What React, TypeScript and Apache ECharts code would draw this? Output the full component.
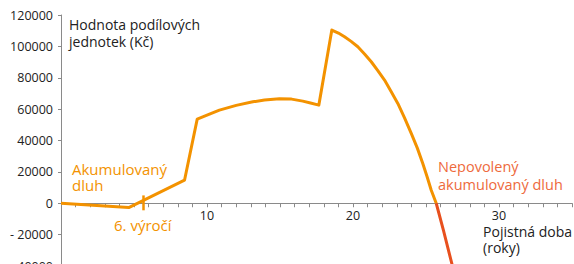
import React, { useEffect, useRef } from "react";
import * as echarts from "echarts";

// Pojistná doba (roky) → Hodnota podílových jednotek (Kč)
const allowedDebtYears = [0, 4.64, 8.46, 9.33, 10.17, 10.85, 12, 13.14, 13.94, 14.96, 15.79, 16.56, 17.09, 17.66, 18.55, 19.0, 19.42, 19.87, 20.33, 20.79, 21.25, 21.7, 22.16, 22.6, 23.07, 23.53, 23.99, 24.4, 24.78, 25.07, 25.36, 25.7];
const allowedDebtValues = [0, -2750, 14680, 53600, 56800, 59360, 62400, 64660, 65750, 66570, 66380, 65110, 63900, 62550, 110430, 108500, 106150, 103200, 99770, 95200, 90190, 84600, 78510, 71400, 63640, 54400, 44490, 35300, 25340, 17000, 8300, 0];
const forbiddenDebtYears = [25.7, 26.2, 26.77, 26.85];
const forbiddenDebtValues = [0, -17500, -38500, -41500];
const anniversaryYear = 5.6;
const xTickLabels = [10, 20, 30];
const yMin = -40000;
const yMax = 120000;

const ORANGE = "#F39200";
const RED = "#E8501E";
const RED_TEXT = "#EE6A3C";
const TEXT = "#222222";
const AXIS = "#8a8a8a";
const FONT = "'Open Sans', 'Noto Sans', sans-serif";

const H = 270;
const GRID_TOP = 15;
const GRID_BOTTOM = 4;

export default function App() {
  const ref = useRef<HTMLDivElement>(null);
  useEffect(() => {
    document.body.style.margin = "0";
    document.body.style.overflow = "hidden";
    const chart = echarts.init(ref.current!, null, { renderer: "svg" });
    const orangeData = allowedDebtYears.map((x, i) => [x, allowedDebtValues[i]]);
    const redData = forbiddenDebtYears.map((x, i) => [x, forbiddenDebtValues[i]]);
    const gridH = H - GRID_TOP - GRID_BOTTOM;
    const zeroFromBottom = (gridH * (0 - yMin)) / (yMax - yMin);
    chart.setOption({
      animation: false,
      textStyle: { fontFamily: FONT },
      grid: { left: 61, right: 2, top: GRID_TOP, bottom: GRID_BOTTOM, outerBoundsMode: "none", containLabel: false },
      xAxis: {
        type: "value",
        min: 0,
        max: 35,
        interval: 1,
        position: "bottom",
        offset: -zeroFromBottom,
        axisLine: { onZero: false, lineStyle: { color: AXIS, width: 1 } },
        axisTick: { show: true, length: 4, lineStyle: { color: AXIS } },
        splitLine: { show: false },
        axisLabel: {
          margin: 6,
          color: TEXT,
          fontSize: 12.5,
          fontFamily: FONT,
          formatter: (v: number) => (xTickLabels.includes(v) ? String(v) : ""),
        },
      },
      yAxis: {
        type: "value",
        min: yMin,
        max: yMax,
        interval: 20000,
        axisLine: { show: true, onZero: false, lineStyle: { color: AXIS, width: 1 } },
        axisTick: { show: true, length: 3, lineStyle: { color: AXIS } },
        splitLine: { show: false },
        axisLabel: {
          margin: 8,
          color: TEXT,
          fontSize: 12.5,
          fontFamily: FONT,
          formatter: (v: number) => (v < 0 ? "- " + String(-v) : String(v)),
        },
      },
      series: [
        {
          type: "line",
          data: orangeData,
          showSymbol: false,
          symbol: "none",
          lineStyle: { color: ORANGE, width: 3, join: "round" },
          itemStyle: { color: ORANGE },
          z: 3,
          markLine: {
            silent: true,
            symbol: ["none", "none"],
            label: { show: false },
            lineStyle: { color: ORANGE, width: 2.5, type: "solid" },
            data: [[{ coord: [anniversaryYear, 5000] }, { coord: [anniversaryYear, -4500] }]],
          },
        },
        {
          type: "line",
          data: redData,
          showSymbol: false,
          symbol: "none",
          lineStyle: { color: RED, width: 3, join: "round" },
          itemStyle: { color: RED },
          z: 3,
        },
      ],
      graphic: [
        {
          type: "text",
          left: 69,
          top: 16,
          style: {
            text: "Hodnota podílových\njednotek (Kč)",
            fill: TEXT,
            font: `14px ${FONT}`,
            lineHeight: 17,
          },
        },
        {
          type: "text",
          left: 72,
          top: 161,
          style: {
            text: "Akumulovaný\ndluh",
            fill: ORANGE,
            font: `15px ${FONT}`,
            lineHeight: 16,
          },
        },
        {
          type: "text",
          left: 114,
          top: 217,
          style: {
            text: "6. výročí",
            fill: ORANGE,
            font: `15px ${FONT}`,
          },
        },
        {
          type: "text",
          left: 438,
          top: 158,
          style: {
            text: "Nepovolený\nakumulovaný dluh",
            fill: RED_TEXT,
            font: `14.5px ${FONT}`,
            lineHeight: 17.5,
          },
        },
        {
          type: "text",
          right: 2,
          top: 223,
          style: {
            text: "Pojistná doba\n(roky)",
            fill: TEXT,
            font: `14px ${FONT}`,
            lineHeight: 16.5,
            align: "right",
          },
        },
      ],
    });
    return () => chart.dispose();
  }, []);
  return (
    <div
      ref={ref}
      style={{ position: "fixed", left: 0, top: 0, width: 574, height: H, background: "#fff" }}
    />
  );
}
